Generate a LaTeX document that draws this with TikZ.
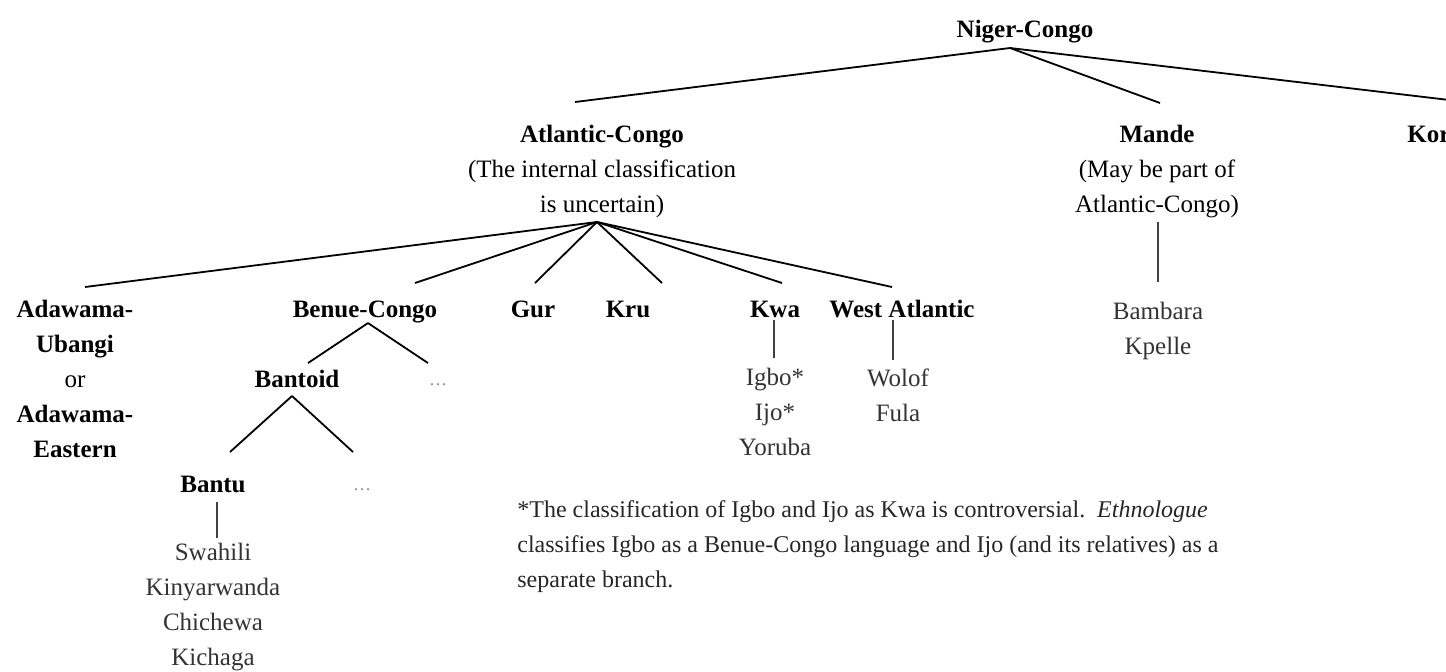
\documentclass[tikz,border=0pt]{standalone}
\usepackage{fontspec}
\setmainfont{Liberation Serif}
\begin{document}
\begin{tikzpicture}[x=0.5pt,y=-0.5pt]
\tikzstyle{family}=[inner sep=0pt,align=center,font=\fontsize{12.5}{17.5}\selectfont\bfseries]
\tikzstyle{lang}=[inner sep=0pt,align=center,text=black!80,font=\fontsize{12.5}{17.5}\selectfont]
\tikzstyle{more}=[inner sep=0pt,text=black!45,font=\fontsize{9}{11}\selectfont]
\tikzstyle{footnote}=[inner sep=0pt,align=left,text=black!85,font=\fontsize{12}{17.5}\selectfont]
\tikzstyle{branch}=[line width=0.9pt]
\tikzstyle{stem}=[line width=0.6pt,black!75]
\useasboundingbox (0,0) rectangle (1446,671);
\clip (0,0) rectangle (1446,671);
% families
\node[family,anchor=base] (nc) at (1025,37) {Niger-Congo};
\node[family,anchor=north] (ac) at (602,125) {Atlantic-Congo\\\mdseries(The internal classification\\\mdseries is uncertain)};
\node[family,anchor=north] (mande) at (1157,125) {Mande\\\mdseries(May be part of\\\mdseries Atlantic-Congo)};
\node[family,anchor=base west] (kor) at (1407,142) {Kordofanian};
\node[family,anchor=north] (ada) at (75,300) {Adawama-\\Ubangi\\\mdseries or\\Adawama-\\Eastern};
\node[family,anchor=base] (bc) at (365,317) {Benue-Congo};
\node[family,anchor=base] (gur) at (533,317) {Gur};
\node[family,anchor=base] (kru) at (628,317) {Kru};
\node[family,anchor=base] (kwa) at (775,317) {Kwa};
\node[family,anchor=base] (wa) at (902,317) {West Atlantic};
\node[family,anchor=base] (bantoid) at (297,387) {Bantoid};
\node[more,anchor=base] (bcmore) at (438,385) {\dots};
\node[family,anchor=base] (bantu) at (213,492) {Bantu};
\node[more,anchor=base] (bdmore) at (362,490) {\dots};
% languages
\node[lang,anchor=north] (mandel) at (1158,302) {Bambara\\Kpelle};
\node[lang,anchor=north] (kwal) at (775,368) {Igbo*\\Ijo*\\Yoruba};
\node[lang,anchor=north] (wal) at (898,368) {Wolof\\Fula};
\node[lang,anchor=north] (bantul) at (213,543) {Swahili\\Kinyarwanda\\Chichewa\\Kichaga};
\node[footnote,anchor=north west] (note) at (517,500) {*The classification of Igbo and Ijo as Kwa is controversial.\ \ \textit{Ethnologue}\\classifies Igbo as a Benue-Congo language and Ijo (and its relatives) as a\\separate branch.};
% junctions and line tips
\coordinate (ncj) at (1010,48);
\coordinate (acj) at (597,222);
\coordinate (bcj) at (368,323);
\coordinate (btj) at (292,396);
\coordinate (t-ac) at (575,102);
\coordinate (t-mande) at (1160,103);
\coordinate (t-kor) at (1500,106);
\coordinate (t-ada) at (85,287);
\coordinate (t-bc) at (415,283);
\coordinate (t-gur) at (535,283);
\coordinate (t-kru) at (662,283);
\coordinate (t-kwa) at (782,283);
\coordinate (t-wa) at (892,287);
\coordinate (t-bantoid) at (308,363);
\coordinate (t-bcmore) at (428,363);
\coordinate (t-bantu) at (230,452);
\coordinate (t-bdmore) at (353,452);
\draw[branch] (ncj) edge (t-ac) edge (t-mande) edge (t-kor);
\draw[branch] (acj) edge (t-ada) edge (t-bc) edge (t-gur) edge (t-kru) edge (t-kwa) edge (t-wa);
\draw[branch] (bcj) edge (t-bantoid) edge (t-bcmore);
\draw[branch] (btj) edge (t-bantu) edge (t-bdmore);
\draw[stem] (1158,222) -- (1158,282);
\draw[stem] (774,320) -- (774,358);
\draw[stem] (893,320) -- (893,360);
\draw[stem] (217,502) -- (217,538);
\end{tikzpicture}
\end{document}
